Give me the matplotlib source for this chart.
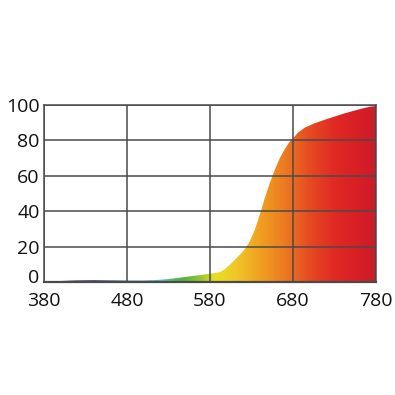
import numpy as np
import matplotlib
matplotlib.use("Agg")
import matplotlib.pyplot as plt
import matplotlib.transforms as mtransforms
from matplotlib.colors import LinearSegmentedColormap
from matplotlib.patches import Polygon

wavelength = [380, 400, 420, 440, 460, 480, 500, 515, 530, 545, 560, 570, 580, 586, 592, 598,
              604, 610, 616, 622, 628, 634, 640, 646, 652, 658, 664, 670, 676, 680, 686,
              694, 706, 722, 742, 762, 773, 780]
intensity = [0.3, 0.6, 0.9, 1.0, 0.9, 0.8, 0.8, 1.1, 1.7, 2.5, 3.5, 4.0, 4.7, 5.1, 5.6, 7.3,
             9.8, 12.6, 15.4, 18.6, 23.0, 29.5, 37.9, 47.4, 55.8, 63.3, 69.9, 75.0, 79.3, 81.2, 84.4,
             87.2, 89.7, 92.3, 95.3, 97.9, 99.1, 99.5]
x_ticks = [380, 480, 580, 680, 780]
y_ticks = [0, 20, 40, 60, 80, 100]

stops = [(380, "#3a1a5a"), (430, "#2a1a6a"), (470, "#1a3a8a"), (500, "#2a8ab0"),
         (520, "#60c0a0"), (545, "#50b040"), (570, "#a0c830"), (585, "#e8e020"),
         (610, "#f0c828"), (640, "#f0a020"), (670, "#ec7a22"), (700, "#e64a22"),
         (730, "#e02a24"), (760, "#d81e26"), (780, "#c81c2a")]
cmap = LinearSegmentedColormap.from_list(
    "spec", [((w - 380) / 400, c) for w, c in stops])

plt.rcParams['font.family'] = ['Open Sans', 'DejaVu Sans']
fig = plt.figure(figsize=(3.95, 3.95), dpi=100)
ax = fig.add_axes([0.111, 0.286, 0.841, 0.448])
ax.set_xlim(380, 780)
ax.set_ylim(0, 100)

grad = np.linspace(0, 1, 400).reshape(1, -1)
im = ax.imshow(grad, cmap=cmap, aspect='auto', extent=[380, 780, 0, 100], zorder=1,
               interpolation='bilinear')
verts = list(zip(wavelength, intensity)) + [(780, 0), (380, 0)]
poly = Polygon(verts, closed=True, facecolor='none', edgecolor='none')
ax.add_patch(poly)
im.set_clip_path(poly)

ax.set_xticks(x_ticks)
ax.set_yticks(y_ticks)
ax.grid(True, color='#4a4a4a', linewidth=1.1, zorder=3)
ax.set_axisbelow(False)
for s in ax.spines.values():
    s.set_color('#4a4a4a')
    s.set_linewidth(1.1)
ax.spines['bottom'].set_linewidth(1.6)
ax.tick_params(axis='both', length=0, labelsize=14, colors='#111111')
ax.tick_params(axis='x', pad=7)
ax.tick_params(axis='y', pad=3)
for lab in ax.get_xticklabels() + ax.get_yticklabels():
    lab.set_fontweight('medium')
offset = mtransforms.ScaledTranslation(0, 6 / 100, fig.dpi_scale_trans)
zero_lab = ax.get_yticklabels()[0]
zero_lab.set_transform(zero_lab.get_transform() + offset)
fig.savefig("out.png", dpi=100, facecolor='white')
